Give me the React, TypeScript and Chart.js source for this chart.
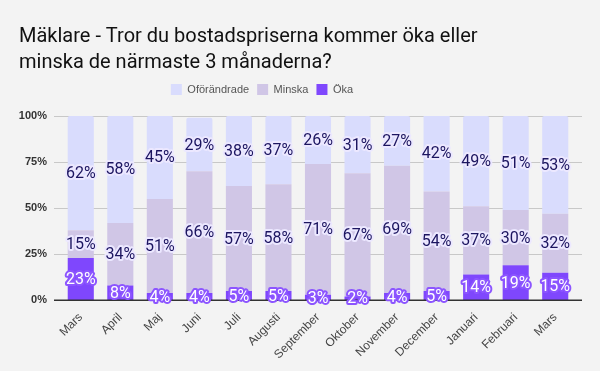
import React, { useEffect, useRef } from "react";
import { Chart, registerables } from "chart.js";

Chart.register(...registerables);

const categories = ["Mars", "April", "Maj", "Juni", "Juli", "Augusti", "September", "Oktober", "November", "December", "Januari", "Februari", "Mars"];
const oka = [23, 8, 4, 4, 5, 5, 3, 2, 4, 5, 14, 19, 15];
const minska = [15, 34, 51, 66, 57, 58, 71, 67, 69, 54, 37, 30, 32];
const oforandrade = [62, 58, 45, 29, 38, 37, 26, 31, 27, 42, 49, 51, 53];
const yTicks = [0, 25, 50, 75, 100];

const labelPlugin = {
  id: "segLabels",
  afterDatasetsDraw(chart: any) {
    const ctx = chart.ctx;
    ctx.save();
    ctx.font = "16px Roboto";
    ctx.textAlign = "center";
    ctx.textBaseline = "middle";
    ctx.lineJoin = "round";
    chart.data.datasets.forEach((ds: any, di: number) => {
      const meta = chart.getDatasetMeta(di);
      meta.data.forEach((bar: any, i: number) => {
        const v = ds.data[i];
        const y = (bar.y + bar.base) / 2;
        const text = v + "%";
        const isOka = di === 0;
        ctx.lineWidth = 4;
        ctx.strokeStyle = isOka ? "#8c55ff" : "#ece8ff";
        ctx.fillStyle = isOka ? "#ffffff" : "#1c1560";
        ctx.strokeText(text, bar.x, y + 1);
        ctx.fillText(text, bar.x, y + 1);
      });
    });
    ctx.restore();
  },
};

const GRID_EXT = 7;

const bgPlugin = {
  id: "bg",
  afterInit(chart: any) {
    const lg = chart.legend;
    if (lg && !lg.__patched) {
      const orig = lg.fit.bind(lg);
      lg.fit = function () {
        orig();
        this.height += 11;
      };
      lg.__patched = true;
    }
  },
  afterLayout(chart: any) {
    const lg = chart.legend;
    if (lg) lg.right -= 70;
  },
  beforeDraw(chart: any) {
    const ctx = chart.ctx;
    ctx.save();
    ctx.fillStyle = "#f3f3f3";
    ctx.fillRect(0, 0, chart.width, chart.height);
    ctx.restore();
  },
  beforeDatasetsDraw(chart: any) {
    const ctx = chart.ctx;
    const a = chart.chartArea;
    const y = chart.scales.y;
    ctx.save();
    ctx.strokeStyle = "#c8c8c8";
    ctx.lineWidth = 1;
    yTicks.forEach((v) => {
      if (v === 0) return;
      const py = Math.round(y.getPixelForValue(v)) + 0.5;
      ctx.beginPath();
      ctx.moveTo(a.left - GRID_EXT, py);
      ctx.lineTo(a.right + GRID_EXT, py);
      ctx.stroke();
    });
    ctx.restore();
  },
  afterDatasetsDraw(chart: any) {
    const ctx = chart.ctx;
    const a = chart.chartArea;
    const y = chart.scales.y;
    ctx.save();
    ctx.strokeStyle = "#333";
    ctx.lineWidth = 1.5;
    const py = y.getPixelForValue(0);
    ctx.beginPath();
    ctx.moveTo(a.left - GRID_EXT, py);
    ctx.lineTo(a.right + GRID_EXT, py);
    ctx.stroke();
    ctx.restore();
  },
};

export default function App() {
  const ref = useRef<HTMLCanvasElement>(null);
  useEffect(() => {
    document.body.style.margin = "0";
    const chart = new Chart(ref.current!, {
      type: "bar",
      data: {
        labels: categories,
        datasets: [
          { label: "Öka", data: oka, backgroundColor: "#7f47fd", borderRadius: 0 },
          { label: "Minska", data: minska, backgroundColor: "#d0c6e6", borderRadius: 0 },
          { label: "Oförändrade", data: oforandrade, backgroundColor: "#d9dcfd", borderRadius: 2, borderSkipped: "bottom" },
        ],
      },
      options: {
        responsive: false,
        animation: false,
        layout: { padding: { left: 19, right: 25, top: 0, bottom: 7 } },
        datasets: { bar: { categoryPercentage: 0.66, barPercentage: 1 } },
        plugins: {
          title: {
            display: true,
            text: ["Mäklare - Tror du bostadspriserna kommer öka eller", "minska de närmaste 3 månaderna?"],
            align: "start",
            color: "#111",
            font: { family: "Roboto", size: 20, weight: "normal", lineHeight: 1.3 },
            padding: { top: 24, bottom: 0 },
          },
          legend: {
            reverse: true,
            labels: {
              boxWidth: 11,
              boxHeight: 11,
              color: "#555",
              font: { family: "Liberation Sans", size: 11 },
              padding: 8,
            },
          },
          tooltip: { enabled: false },
        },
        scales: {
          x: {
            stacked: true,
            grid: { display: false },
            border: { display: false },
            ticks: { color: "#444", font: { family: "Liberation Sans", size: 12 }, maxRotation: 45, minRotation: 45, padding: 2 },
          },
          y: {
            stacked: true,
            min: 0,
            max: 100,
            afterBuildTicks: (axis: any) => {
              axis.ticks = yTicks.map((v) => ({ value: v }));
            },
            afterFit: (axis: any) => {
              axis.width = 42;
            },
            grid: { display: false, drawTicks: false },
            border: { display: false },
            ticks: {
              color: "#333",
              font: { family: "Liberation Sans", size: 11, weight: "bold" },
              padding: 14,
              callback: (v: any) => v + "%",
            },
          },
        },
      },
      plugins: [bgPlugin, labelPlugin],
    });
    return () => chart.destroy();
  }, []);
  return <canvas ref={ref} width={600} height={371} style={{ display: "block" }} />;
}
